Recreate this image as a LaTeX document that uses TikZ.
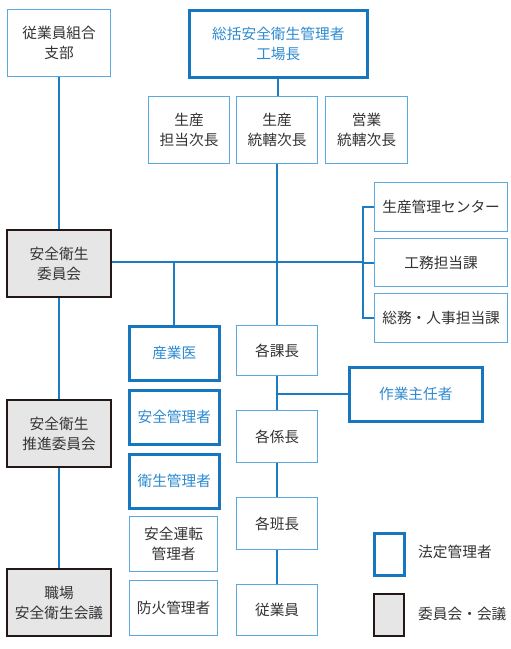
\documentclass[tikz,border=0pt]{standalone}
\usepackage{fontspec}
\setmainfont{Noto Sans CJK JP}
\definecolor{thinblue}{HTML}{5AA8DE}
\definecolor{thickblue}{HTML}{1677C0}
\definecolor{bluetext}{HTML}{2E8BD0}
\definecolor{linkblue}{HTML}{1B7CC4}
\definecolor{txt}{HTML}{333333}
\definecolor{grayfill}{HTML}{E6E6E6}
\definecolor{grayline}{HTML}{231815}
\tikzset{
  base/.style={anchor=north west, inner sep=0pt, align=center, font=\fontsize{14.7}{20}\selectfont},
  thinbox/.style={base, draw=thinblue, line width=1.2pt, fill=white, text=txt},
  legalbox/.style={base, draw=thickblue, line width=2.6pt, fill=white, text=bluetext},
  commbox/.style={base, draw=grayline, line width=2.2pt, fill=grayfill, text=txt},
  link/.style={draw=linkblue, line width=1.8pt},
  lbl/.style={anchor=west, inner sep=0pt, text=txt, font=\fontsize{14.7}{20}\selectfont}
}
\begin{document}
\begin{tikzpicture}[x=1pt,y=-1pt]
\useasboundingbox (0,0) rectangle (511,649);
% left column
\node[thinbox, minimum width=103, minimum height=67] (union) at (7,9) {従業員組合\\支部};
\node[commbox, minimum width=104, minimum height=67] (iinkai) at (6,229) {安全衛生\\委員会};
\node[commbox, minimum width=104, minimum height=67] (suishin) at (6,399) {安全衛生\\推進委員会};
\node[commbox, minimum width=104, minimum height=67] (kaigi) at (6,568) {職場\\安全衛生会議};
% top
\node[legalbox, minimum width=178, minimum height=67] (sokatsu) at (188,9) {総括安全衛生管理者\\工場長};
\node[thinbox, minimum width=81, minimum height=67] (seitanto) at (148,96) {生産\\担当次長};
\node[thinbox, minimum width=81, minimum height=67] (seitokatsu) at (236,96) {生産\\統轄次長};
\node[thinbox, minimum width=82, minimum height=67] (eigyo) at (325,96) {営業\\統轄次長};
% right
\node[thinbox, minimum width=133, minimum height=49] (center) at (374,182) {生産管理センター};
\node[thinbox, minimum width=133, minimum height=48] (komu) at (374,238) {工務担当課};
\node[thinbox, minimum width=133, minimum height=49] (somu) at (374,293) {総務・人事担当課};
% middle column
\node[legalbox, minimum width=90, minimum height=54] (sangyoi) at (128,325) {産業医};
\node[legalbox, minimum width=90, minimum height=54] (anzenkanri) at (128,389) {安全管理者};
\node[legalbox, minimum width=90, minimum height=54] (eisei) at (128,453) {衛生管理者};
\node[thinbox, minimum width=88, minimum height=55] (unten) at (129,516) {安全運転\\管理者};
\node[thinbox, minimum width=88, minimum height=55] (boka) at (129,580) {防火管理者};
% center column
\node[thinbox, minimum width=81, minimum height=50] (kacho) at (236,325) {各課長};
\node[thinbox, minimum width=81, minimum height=52] (kakari) at (236,410) {各係長};
\node[thinbox, minimum width=81, minimum height=52] (han) at (236,497) {各班長};
\node[thinbox, minimum width=81, minimum height=51] (jugyo) at (236,584) {従業員};
\node[legalbox, minimum width=133, minimum height=54] (sagyo) at (348,366) {作業主任者};
% legend
\node[legalbox, minimum width=30, minimum height=42] (leg1) at (373,532) {};
\node[commbox, minimum width=30, minimum height=42] (leg2) at (373,593) {};
\node[lbl] (leg1t) at (418,552) {法定管理者};
\node[lbl] (leg2t) at (418,614) {委員会・会議};
% connectors
\coordinate (br) at (363,262);
\draw[link] (union.south) -- (iinkai.north);
\draw[link] (iinkai.south) -- (suishin.north);
\draw[link] (suishin.south) -- (kaigi.north);
\draw[link] (sokatsu.south) -- (sokatsu.south |- seitokatsu.north);
\draw[link] (seitokatsu.south) -- (kacho.north);
\draw[link] (iinkai.east |- br) -- (br);
\draw[link] (sangyoi.north |- br) -- (sangyoi.north);
\draw[link] (center.west) -- (center.west -| br) -- (somu.west -| br) -- (somu.west);
\draw[link] (komu.west -| br) -- (komu.west);
\draw[link] (kacho.south) -- (kakari.north);
\draw[link] (sagyo.west) -- (sagyo.west -| kacho.south);
\draw[link] (kakari.south) -- (han.north);
\draw[link] (han.south) -- (jugyo.north);
\end{tikzpicture}
\end{document}
